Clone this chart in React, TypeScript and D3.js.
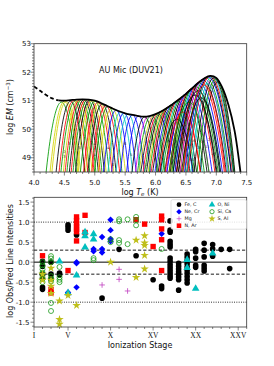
import React from "react";
import * as d3 from "d3";

const W = 274;
const H = 366;
const plotLeft = 34;
const plotRight = 246.7;

// DEM curve (log T, log EM)
const demT = [4.0, 4.1, 4.2, 4.3, 4.4, 4.5, 4.6, 4.7, 4.8, 4.9, 5.0, 5.1, 5.2, 5.3, 5.4, 5.5, 5.6, 5.7, 5.8, 5.9, 6.0, 6.1, 6.2, 6.3, 6.4, 6.5, 6.6, 6.7, 6.8, 6.9, 7.0, 7.1, 7.2, 7.3, 7.4];
const demEM = [51.5, 51.35, 51.2, 51.08, 51.01, 51.0, 51.02, 51.04, 51.05, 51.04, 51.0, 50.92, 50.82, 50.72, 50.63, 50.56, 50.51, 50.47, 50.44, 50.46, 50.53, 50.63, 50.76, 50.91, 51.07, 51.24, 51.43, 51.62, 51.78, 51.87, 51.8, 51.45, 50.85, 49.95, 48.45];
const demDashedTo = 4.4;

// emission measure loci: peak log T, peak log EM, width, colour
const lociT = [4.45, 4.5, 4.53, 4.6, 4.65, 4.68, 4.72, 4.75, 4.78, 4.82, 4.85, 4.88, 4.92, 4.95, 5.0, 5.05, 5.08, 5.12, 5.18, 5.22, 5.28, 5.35, 5.42, 5.48, 5.55, 5.62, 5.72, 5.82, 5.88, 5.93,
  6.0, 6.03, 6.07, 6.1, 6.13, 6.16, 6.2, 6.23, 6.26, 6.3, 6.33, 6.36, 6.4, 6.43, 6.46, 6.5, 6.53, 6.56, 6.6, 6.62, 6.65, 6.68, 6.71, 6.74, 6.77, 6.8, 6.83, 6.86, 6.88, 6.9, 6.93, 6.96, 6.99, 7.02,
  6.35, 6.45, 6.55, 6.65, 6.7, 6.8, 6.85, 6.75];
const lociEM = [50.95, 50.97, 50.97, 50.98, 51.0, 51.0, 51.0, 51.02, 51.03, 51.03, 51.03, 51.03, 51.02, 51.0, 50.98, 50.94, 50.92, 50.88, 50.83, 50.8, 50.74, 50.67, 50.6, 50.57, 50.53, 50.5, 50.46, 50.43, 50.45, 50.48,
  50.52, 50.55, 50.6, 50.63, 50.66, 50.7, 50.76, 50.8, 50.85, 50.9, 50.95, 50.99, 51.06, 51.1, 51.15, 51.23, 51.28, 51.34, 51.42, 51.45, 51.5, 51.57, 51.63, 51.68, 51.73, 51.77, 51.8, 51.83, 51.85, 51.86, 51.84, 51.8, 51.74, 51.66,
  50.35, 50.6, 50.95, 51.2, 51.35, 51.55, 51.6, 51.1];
const lociW = [0.16, 0.15, 0.15, 0.15, 0.15, 0.15, 0.15, 0.15, 0.15, 0.15, 0.15, 0.15, 0.15, 0.15, 0.15, 0.15, 0.15, 0.15, 0.15, 0.15, 0.15, 0.14, 0.14, 0.14, 0.14, 0.14, 0.14, 0.15, 0.15, 0.16,
  0.19, 0.19, 0.19, 0.19, 0.19, 0.19, 0.2, 0.2, 0.2, 0.2, 0.2, 0.2, 0.21, 0.21, 0.21, 0.21, 0.21, 0.22, 0.22, 0.22, 0.22, 0.22, 0.22, 0.22, 0.22, 0.22, 0.21, 0.21, 0.2, 0.2, 0.19, 0.18, 0.17, 0.16,
  0.2, 0.2, 0.21, 0.22, 0.21, 0.2, 0.19, 0.2];
const lociColor = ["g", "y", "y", "k", "r", "g", "y", "r", "g", "k", "r", "g", "k", "y", "g", "r", "y", "k", "r", "g", "y", "b", "c", "b", "c", "b", "b", "k", "m", "g",
  "y", "k", "r", "g", "k", "y", "g", "r", "k", "b", "g", "k", "r", "c", "g", "k", "m", "b", "r", "k", "g", "c", "b", "r", "k", "m", "g", "b", "k", "r", "c", "k", "g", "k",
  "k", "r", "g", "k", "k", "r", "c", "k"];

// small ion-stage labels under the loci
const tagText = ["3", "2", "3", "2", "5", "4", "4", "4", "6", "6", "5", "5", "6", "9", "14", "15", "10", "16", "13", "17", "11", "20", "18"];
const tagT = [4.58, 4.5, 4.5, 4.7, 4.75, 5.0, 5.0, 5.22, 5.3, 5.5, 5.6, 5.85, 5.9, 6.4, 6.45, 6.55, 6.6, 6.62, 6.7, 6.78, 6.85, 6.9, 6.95];
const tagEM = [49.45, 49.15, 49.0, 48.72, 49.3, 49.45, 49.05, 49.3, 48.72, 49.45, 49.05, 48.72, 49.5, 49.0, 49.6, 49.4, 48.9, 49.55, 49.3, 49.5, 49.35, 49.6, 49.1];

// lower panel: [ionization stage, log obs/pred]
const feC = [
  [2, 0.02], [2, -0.1], [2, -0.3], [2, -0.4], [2, -0.63], [2, -0.68],
  [3, 0.0], [3, -0.3], [3, -0.42], [4, -0.27], [4, -0.32],
  [5, 0.93], [5, 0.87], [5, 0.8], [6, 0.68], [9, -0.9], [11, 0.32], [13, 0.16], [15, -0.44], [16, -0.6], [16, -0.66],
  [17, 1.03], [17, 0.8], [17, 0.75], [17, 0.52], [17, 0.45], [17, 0.38], [17, 0.1], [17, 0.02], [17, -0.06], [17, -0.13], [17, -0.2], [17, -0.27], [17, -0.34], [17, -0.4],
  [18, -0.03], [18, -0.1], [18, -0.17], [18, -0.24], [18, -0.3], [18, -0.37], [18, -0.44], [18, -0.7],
  [19, 0.2], [19, 0.12], [19, 0.04], [19, -0.04], [19, -0.12], [19, -0.2], [19, -0.28], [19, -0.36], [19, -0.44], [19, -0.52],
  [20, 0.32], [20, 0.26], [20, 0.1], [20, -0.08], [20, -0.13],
  [21, 0.47], [21, 0.3], [21, 0.13], [21, -0.08], [21, -0.15], [21, -0.22],
  [22, 0.44], [22, 0.33], [22, 0.15], [23, 0.32], [24, 0.32], [24, -0.16],
];
const neCr = [[5, -0.76], [5, -0.8], [6, 0.0], [6, -0.03], [6, -0.63], [8, 0.27], [8, 0.33], [9, 0.63], [9, 0.33], [9, 0.24], [10, 1.06], [10, 0.8], [10, 0.58], [10, 0.52], [16, 0.71]];
const mg = [[9, -0.57], [11, -0.18], [11, -0.43], [12, -0.72]];
const nAr = [[2, 0.16], [3, -0.68], [3, -0.77], [5, -0.21], [6, 1.13], [6, 1.04], [6, 0.96], [6, 0.89], [6, 0.82], [6, 0.76], [6, 0.53], [7, 1.17], [7, 0.74], [13, 1.06], [14, 0.95], [15, 0.39], [16, 1.15], [16, 1.06], [16, 0.83], [16, 0.56], [16, -0.21]];
const oNi = [[4, 0.02], [5, -0.77], [6, -0.33], [7, 0.75], [7, 0.65], [7, 0.37], [8, 0.7], [8, 0.57], [19, 0.06], [19, -0.14], [20, -0.66], [22, 0.22]];
const siCa = [
  [2, 0.0], [2, -0.08], [2, -0.18], [2, -0.26], [2, -0.33], [2, -0.42], [2, -0.5],
  [3, 0.15], [3, 0.09], [3, 0.0], [3, -0.35], [3, -0.42], [3, -0.48], [3, -1.02], [3, -1.22],
  [4, -0.12], [4, -0.38], [4, -0.44], [4, -0.5], [8, 0.1], [8, 0.05], [10, 0.57], [10, 0.5],
  [11, 1.07], [11, 1.02], [11, 0.55], [11, 0.48], [12, 1.07], [12, 0.45], [13, 1.13], [13, 1.05], [13, 0.92], [16, 0.33],
];
const sAl = [[2, -0.3], [2, -0.45], [3, -0.15], [3, -0.45], [3, -0.6], [3, -0.78], [4, -0.97], [4, -1.43], [4, -1.55], [5, -0.83], [6, -1.08], [10, 0.0], [13, 0.55], [13, -0.38], [14, 0.66], [14, 0.48], [14, 0.42], [14, 0.17], [14, -0.17]];

const stageTicks = [1, 5, 10, 15, 20, 25];
const stageLabels = ["I", "V", "X", "XV", "XX", "XXV"];
const ratioTicks = [-1.5, -1.0, -0.5, 0.0, 0.5, 1.0, 1.5];
const tempTicks = [4.0, 4.5, 5.0, 5.5, 6.0, 6.5, 7.0, 7.5];
const emTicks = [49, 50, 51, 52, 53];

const palette: Record<string, string> = {
  k: "#000000", r: "#ff0000", g: "#009a00", b: "#0000ff", c: "#00c8c8", m: "#cc00cc", y: "#d2d200",
};

const xT = d3.scaleLinear().domain([4.0, 7.5]).range([plotLeft, plotRight]);
const yEM = d3.scaleLinear().domain([48.5, 53]).range([172, 43.7]);
const xS = d3.scaleLinear().domain([1, 26]).range([plotLeft, plotRight]);
const yR = d3.scaleLinear().domain([-1.62, 1.62]).range([327, 197.3]);

const lineT = d3.line<number[]>().x((d) => xT(d[0])).y((d) => yEM(d[1]));

const locus = (t0: number, em0: number, w: number) => {
  const half = w * Math.sqrt(em0 - 48.2);
  const pts = d3.range(0, 49).map((i) => {
    const t = t0 - half + (2 * half * i) / 48;
    return [t, em0 - ((t - t0) / w) ** 2];
  });
  return lineT.curve(d3.curveLinear)(pts) || "";
};

const sym = (type: d3.SymbolType, size: number) => d3.symbol().type(type).size(size)() || "";
const circlePath = sym(d3.symbolCircle, 25);
const squarePath = sym(d3.symbolSquare, 29);
const diamondPath = sym(d3.symbolSquare, 21);
const trianglePath = sym(d3.symbolTriangle, 25);
const starPath = sym(d3.symbolStar, 22);

type Series = { label: string; data: number[][]; kind: string; color: string };
const series: Series[] = [
  { label: "Fe, C", data: feC, kind: "circle", color: "#000000" },
  { label: "Ne, Cr", data: neCr, kind: "diamond", color: "#0000ff" },
  { label: "Mg", data: mg, kind: "plus", color: "#c040c0" },
  { label: "N, Ar", data: nAr, kind: "square", color: "#ff0000" },
  { label: "O, Ni", data: oNi, kind: "triangle", color: "#00bfbf" },
  { label: "Si, Ca", data: siCa, kind: "open", color: "#1a9a1a" },
  { label: "S, Al", data: sAl, kind: "star", color: "#bfbf1a" },
];

const Marker = ({ kind, color, x, y, s = 1 }: { kind: string; color: string; x: number; y: number; s?: number }) => {
  const tr = `translate(${x},${y}) scale(${s})`;
  if (kind === "circle") return <path d={circlePath} transform={tr} fill={color} />;
  if (kind === "square") return <path d={squarePath} transform={tr} fill={color} />;
  if (kind === "diamond") return <path d={diamondPath} transform={`${tr} rotate(45)`} fill={color} />;
  if (kind === "triangle") return <path d={trianglePath} transform={tr} fill={color} />;
  if (kind === "star") return <path d={starPath} transform={tr} fill={color} />;
  if (kind === "open") return <circle cx={x} cy={y} r={2.5 * s} fill="none" stroke={color} strokeWidth={0.8} />;
  return <path d="M-2.8,0H2.8M0,-2.8V2.8" transform={tr} stroke={color} strokeWidth={0.8} fill="none" />;
};

const axisColor = "#333";
const font = "DejaVu Sans, sans-serif";

const App = () => {
  const demPts = demT.map((t, i) => [t, demEM[i]]);
  const demLine = d3.line<number[]>().x((d) => xT(d[0])).y((d) => yEM(d[1])).curve(d3.curveCatmullRom);
  const dashed = demLine(demPts.filter((d) => d[0] <= demDashedTo)) || "";
  const solid = demLine(demPts.filter((d) => d[0] >= demDashedTo)) || "";

  const topMinorX = d3.range(40, 76).map((v) => v / 10);
  const topMinorY = d3.range(485, 531).map((v) => v / 10);
  const botMinorY = d3.range(-16, 17).map((v) => v / 10);
  const botMinorX = d3.range(1, 27);

  return (
    <svg width={W} height={H} style={{ position: "absolute", left: 0, top: 0, background: "#fff" }} fontFamily={font}>
      <defs>
        <clipPath id="topClip">
          <rect x={plotLeft} y={43.7} width={plotRight - plotLeft} height={172 - 43.7} />
        </clipPath>
      </defs>

      {/* ---------- top panel ---------- */}
      <g clipPath="url(#topClip)">
        {lociT.map((t, i) => (
          <path key={i} d={locus(t, lociEM[i], lociW[i])} fill="none" stroke={palette[lociColor[i]]} strokeWidth={0.85} />
        ))}
        {tagText.map((s, i) => (
          <text key={i} x={xT(tagT[i])} y={yEM(tagEM[i])} fontSize={3.6} fill="#333" textAnchor="middle">{s}</text>
        ))}
        <path d={dashed} fill="none" stroke="#000" strokeWidth={1.8} strokeDasharray="4,2.5" />
        <path d={solid} fill="none" stroke="#000" strokeWidth={1.8} />
      </g>
      <rect x={plotLeft} y={43.7} width={plotRight - plotLeft} height={172 - 43.7} fill="none" stroke={axisColor} strokeWidth={0.8} />
      {topMinorX.map((v) => (
        <line key={v} x1={xT(v)} x2={xT(v)} y1={172} y2={Math.round(v * 10) % 5 === 0 ? 175.5 : 174} stroke={axisColor} strokeWidth={0.6} />
      ))}
      {topMinorY.map((v) => (
        <line key={v} x1={plotLeft} x2={Math.round(v * 10) % 10 === 0 ? plotLeft - 3.5 : plotLeft - 2} y1={yEM(v)} y2={yEM(v)} stroke={axisColor} strokeWidth={0.6} />
      ))}
      {tempTicks.map((v) => (
        <text key={v} x={xT(v)} y={184.5} fontSize={7} textAnchor="middle" fill="#111">{v.toFixed(1)}</text>
      ))}
      {emTicks.map((v) => (
        <text key={v} x={31} y={yEM(v) + 2.5} fontSize={7} textAnchor="end" fill="#111">{v}</text>
      ))}
      <text x={131} y={72.5} fontSize={8} textAnchor="middle" fill="#111">AU Mic (DUV21)</text>
      <text x={140} y={194.8} fontSize={8} textAnchor="middle" fill="#111">
        log <tspan fontStyle="italic">T</tspan><tspan fontSize={5.5} dy={1.5} fontStyle="italic">e</tspan><tspan dy={-1.5}> (K)</tspan>
      </text>
      <text transform={`translate(13,${107}) rotate(-90)`} fontSize={8} textAnchor="middle" fill="#111">
        log <tspan fontStyle="italic">EM</tspan> (cm<tspan fontSize={5.5} dy={-3}>−3</tspan><tspan dy={3}>)</tspan>
      </text>

      {/* ---------- bottom panel ---------- */}
      <line x1={plotLeft} x2={plotRight} y1={yR(0)} y2={yR(0)} stroke="#000" strokeWidth={1} />
      {[0.3, -0.3].map((v) => (
        <line key={v} x1={plotLeft} x2={plotRight} y1={yR(v)} y2={yR(v)} stroke="#000" strokeWidth={0.9} strokeDasharray="3.2,2" />
      ))}
      {[1.0, -1.0].map((v) => (
        <line key={v} x1={plotLeft} x2={plotRight} y1={yR(v)} y2={yR(v)} stroke="#000" strokeWidth={0.9} strokeDasharray="0.9,1.4" />
      ))}
      {series.map((s) => (
        <g key={s.label}>
          {s.data.map((d, i) => (
            <Marker key={i} kind={s.kind} color={s.color} x={xS(d[0])} y={yR(d[1])} />
          ))}
        </g>
      ))}
      <rect x={plotLeft} y={197.3} width={plotRight - plotLeft} height={327 - 197.3} fill="none" stroke={axisColor} strokeWidth={0.8} />
      {botMinorX.map((v) => (
        <line key={v} x1={xS(v)} x2={xS(v)} y1={327} y2={stageTicks.includes(v) ? 330.5 : 329} stroke={axisColor} strokeWidth={0.6} />
      ))}
      {botMinorY.map((v) => (
        <line key={v} x1={plotLeft} x2={Math.round(v * 10) % 5 === 0 ? plotLeft - 3.5 : plotLeft - 2} y1={yR(v)} y2={yR(v)} stroke={axisColor} strokeWidth={0.6} />
      ))}
      {ratioTicks.map((v) => (
        <text key={v} x={29.5} y={yR(v) + 2.5} fontSize={7} textAnchor="end" fill="#111">{v.toFixed(1)}</text>
      ))}
      {stageTicks.map((v, i) => (
        <text key={v} x={xS(v)} y={337.5} fontSize={7.5} textAnchor="middle" fontFamily="Liberation Serif, serif" fill="#111">{stageLabels[i]}</text>
      ))}
      <text x={140} y={348} fontSize={8} textAnchor="middle" fill="#111">Ionization Stage</text>
      <text transform={`translate(13,${261}) rotate(-90)`} fontSize={8} textAnchor="middle" fill="#111">log Obs/Pred Line Intensities</text>

      {/* legend */}
      <rect x={171} y={199.7} width={75.5} height={29.5} rx={1.5} fill="#fff" fillOpacity={0.85} stroke="#ccc" strokeWidth={0.6} />
      {series.map((s, i) => {
        const col = i < 4 ? 0 : 1;
        const row = i < 4 ? i : i - 4;
        const mx = col === 0 ? 179 : 212;
        const my = 204.7 + row * 7;
        return (
          <g key={s.label}>
            <Marker kind={s.kind} color={s.color} x={mx} y={my} s={0.85} />
            <text x={mx + 5.5} y={my + 1.7} fontSize={4.8} fill="#111">{s.label}</text>
          </g>
        );
      })}
    </svg>
  );
};

export default App;
